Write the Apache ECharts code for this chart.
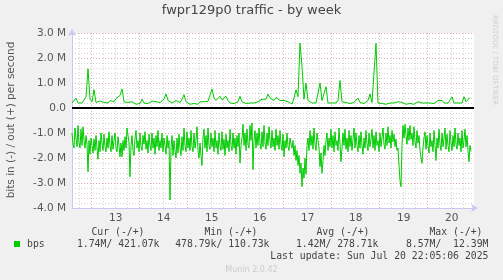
<!DOCTYPE html>
<html><head><meta charset="utf-8">
<script src="https://cdn.jsdelivr.net/npm/echarts@6/dist/echarts.min.js"></script>
<style>html,body{margin:0;padding:0;background:#f0f0f0}#c{width:503px;height:280px}</style>
</head><body><div id="c"></div>
<script>
const chartTitle = 'fwpr129p0 traffic - by week';
const yAxisName = 'bits in (-) / out (+) per second';
const dayLabels = [13, 14, 15, 16, 17, 18, 19, 20];
const yMin = -4, yMax = 3, yStep = 1; // in M
const startHour = 14.15;   // hours after Jul 12 00:00 of the first sample
const outStepHours = 1;
const inStepHours = 0.5;
const endHour = 215.15;    // right edge of the plot
// out (+) traffic, Mbit/s, hourly
const outMbps = [
0.2,0.25,0.4,0.2,0.25,0.2,0.28,0.45,1.57,0.35,
0.25,0.73,0.22,0.2,0.28,0.35,0.22,0.28,0.2,0.3,
0.22,0.25,0.38,0.3,0.5,0.76,0.25,0.2,0.22,0.18,
0.25,0.2,0.15,0.22,0.18,0.35,0.2,0.25,0.18,0.22,
0.28,0.2,0.25,0.3,0.22,0.3,0.35,0.56,0.3,0.28,
0.2,0.25,0.3,0.25,0.22,0.35,0.53,0.25,0.2,0.15,
0.12,0.18,0.13,0.15,0.25,0.28,0.25,0.3,0.27,0.3,
0.76,0.4,0.3,0.25,0.47,0.33,0.3,0.47,0.3,0.2,
0.22,0.18,0.22,0.25,0.47,0.25,0.2,0.18,0.22,0.2,
0.15,0.2,0.22,0.25,0.3,0.35,0.4,0.35,0.56,0.4,
0.45,0.3,0.42,0.35,0.3,0.38,0.3,0.27,0.25,0.2,
0.16,0.4,0.73,0.45,2.6,1.67,0.35,1.0,0.3,0.22,
0.2,0.18,0.2,0.25,1.0,0.3,0.25,0.85,0.2,0.18,
0.2,0.22,0.2,0.3,1.1,0.25,0.2,0.22,0.2,0.18,
0.2,0.22,0.25,0.4,0.22,0.2,0.18,0.22,0.3,0.56,
0.22,0.2,2.59,0.2,0.25,0.18,0.2,0.15,0.18,0.2,
0.15,0.2,0.22,0.25,0.33,0.22,0.18,0.15,0.2,0.18,
0.2,0.15,0.18,0.25,0.2,0.2,0.22,0.2,0.18,0.2,
0.22,0.18,0.2,0.3,0.25,0.3,0.2,0.18,0.2,0.22,
0.44,0.2,0.18,0.2,0.22,0.2,0.45,0.25,0.22,0.42
];
// in (-) traffic, Mbit/s, every 30 minutes (drawn negative)
const inMbps = [
1.0,1.45,1.6,0.8,1.2,1.55,0.7,1.4,1.6,0.85,
1.5,0.75,1.3,1.6,1.1,1.45,2.55,1.3,1.85,1.2,
1.5,1.8,1.25,1.7,1.1,1.6,2.05,1.3,1.75,1.0,
1.4,1.7,1.05,1.55,1.75,1.2,1.6,0.95,1.5,1.75,
1.1,1.65,1.3,1.0,1.6,1.75,1.15,1.5,1.95,1.4,
1.95,1.3,1.7,1.15,1.6,0.8,0.75,1.4,2.75,1.5,
1.1,1.7,1.9,1.2,0.9,1.6,1.3,1.75,1.0,1.55,
1.7,1.1,1.45,0.95,1.65,1.3,1.8,1.05,1.5,1.7,
1.0,1.6,1.2,1.85,1.1,1.55,0.9,1.7,1.3,1.6,
1.0,1.75,1.2,1.5,1.85,1.1,1.6,1.3,3.68,1.6,
1.1,1.9,1.3,1.7,2.0,1.2,1.8,1.05,1.6,1.9,
1.15,1.7,0.8,1.5,1.75,0.95,1.6,1.2,1.7,0.9,
1.55,1.75,1.0,1.6,1.3,0.75,1.7,2.0,1.4,1.9,
2.3,1.2,0.85,1.6,1.1,1.75,0.8,1.5,1.65,1.0,
1.55,1.2,1.75,0.9,1.6,1.3,1.85,1.0,1.5,1.7,
0.95,1.65,1.25,1.9,1.05,1.6,1.3,1.75,0.85,1.5,
1.7,1.0,1.6,1.2,1.85,1.1,1.55,1.0,2.2,1.5,
1.2,0.65,1.5,1.0,1.7,0.85,1.45,1.6,0.7,1.3,
0.6,2.47,1.3,0.9,1.6,1.0,1.5,0.8,1.4,1.65,
0.95,1.55,0.7,1.4,1.65,1.0,1.5,0.75,1.3,1.6,
0.9,1.55,1.2,1.7,0.85,1.5,1.1,1.65,0.9,1.45,
1.7,1.05,1.95,1.3,1.6,1.0,1.55,1.7,1.2,1.45,
1.6,1.3,1.9,1.5,2.1,1.7,2.3,1.9,2.61,2.2,
3.15,2.4,2.8,2.0,2.65,1.5,1.2,1.7,0.9,1.5,
1.1,1.65,0.8,1.45,1.7,1.0,1.3,1.6,2.35,1.8,
2.61,2.1,1.5,1.9,1.3,1.0,1.7,1.2,1.55,0.85,
1.6,1.1,1.75,0.95,1.5,1.3,1.7,0.8,1.45,2.15,
1.6,1.0,1.5,0.85,1.65,1.2,1.75,0.9,1.55,1.1,
1.7,1.25,0.8,1.6,1.0,1.5,1.75,1.1,1.6,0.95,
1.5,1.85,1.2,1.6,0.9,1.45,1.7,1.0,1.55,1.25,
0.85,1.6,1.1,1.7,0.95,1.5,1.3,1.75,1.0,1.55,
1.2,0.8,1.45,1.65,1.0,1.5,0.75,1.4,1.1,1.6,
0.9,1.35,1.05,1.55,1.25,1.7,1.6,2.3,2.9,3.15,
1.5,0.7,1.2,0.65,1.1,1.45,0.8,1.3,0.7,1.25,
1.0,1.5,0.75,1.35,1.6,0.9,1.4,1.1,1.7,2.0,
2.21,1.6,1.2,0.95,1.65,1.1,1.5,1.8,1.0,1.55,
1.3,1.75,0.9,1.5,2.1,1.2,1.6,0.85,1.45,1.7,
1.0,1.55,1.2,0.8,1.65,1.05,1.5,1.75,0.9,1.4,
1.7,1.1,1.55,0.8,1.45,1.65,1.0,1.5,1.2,1.75,
0.9,1.6,1.3,0.85,1.55,1.1,1.7,2.15,1.5,1.74
];
const legendName = 'bps';
const legendHeaders = ['Cur (-/+)', 'Min (-/+)', 'Avg (-/+)', 'Max (-/+)'];
const legendValues = ['1.74M/ 421.07k', '478.79k/ 110.73k', '1.42M/ 278.71k', '8.57M/  12.39M'];
const lastUpdate = 'Last update: Sun Jul 20 22:05:06 2025';
const footer = 'Munin 2.0.42';
const sideText = 'RRDTOOL / TOBI OETIKER';

const outData = outMbps.map((v, i) => [startHour + i * outStepHours, v]);
const inData = inMbps.map((v, i) => [startHour + i * inStepHours, -v]);
const noonHours = dayLabels.map(d => (d - 12) * 24 + 12);
const midnightHours = dayLabels.map(d => (d - 12) * 24);
const sixHours = [];
for (let h = 6; h < endHour; h += 6) if (h > startHour && h % 24 !== 0) sixHours.push(h);

const axisBlue = '#c8c8f4';
const majorGrid = '#e8aaaa';
const minorGrid = '#d4d4d4';
const mono = '"DejaVu Sans Mono", monospace';
const sans = '"DejaVu Sans", sans-serif';

const chart = echarts.init(document.getElementById('c'), null, {renderer: 'canvas'});
const headerRight = [144.5, 257.5, 369.5, 482.5];
const valueRight = [159.5, 269.5, 378.5, 488.5];
const graphics = [
  {type: 'text', left: 'center', top: 4, style: {text: chartTitle, font: '13px ' + sans, fill: '#444'}},
  {type: 'text', x: 11, y: 120, rotation: Math.PI / 2, style: {text: yAxisName, font: '10.5px ' + sans, fill: '#555', align: 'center', verticalAlign: 'middle'}},
  {type: 'text', x: 495, y: 15, rotation: -Math.PI / 2, style: {text: sideText, font: '7px ' + sans, fill: '#cfcfcf', align: 'left', verticalAlign: 'middle'}},
  {type: 'rect', shape: {x: 14, y: 241, width: 6, height: 6}, style: {fill: '#00cc00'}},
  {type: 'text', x: 27, y: 244.5, style: {text: legendName, font: '9.8px ' + mono, fill: '#444', verticalAlign: 'middle'}},
  {type: 'text', x: 488.5, y: 256.5, style: {text: lastUpdate, font: '9.8px ' + mono, fill: '#444', align: 'right', verticalAlign: 'middle'}},
  {type: 'text', x: 251.5, y: 269.5, style: {text: footer, font: '8px ' + sans, fill: '#cccccc', align: 'center', verticalAlign: 'middle'}}
];
legendHeaders.forEach((t, i) => graphics.push({type: 'text', x: headerRight[i], y: 232.5, style: {text: t, font: '9.8px ' + mono, fill: '#444', align: 'right', verticalAlign: 'middle'}}));
legendValues.forEach((t, i) => graphics.push({type: 'text', x: valueRight[i], y: 244.5, style: {text: t, font: '9.8px ' + mono, fill: '#444', align: 'right', verticalAlign: 'middle'}}));

const hiddenX = (vals, color) => ({
  type: 'value', min: startHour, max: endHour, position: 'bottom',
  axisLine: {show: false, onZero: false}, axisLabel: {show: false},
  axisTick: {show: false, customValues: vals},
  splitLine: {show: true, lineStyle: {color: color, type: [1, 2], width: 1}}
});

chart.setOption({
  animation: false,
  backgroundColor: '#f0f0f0',
  grid: {left: 72, top: 33, width: 402, height: 175, show: true, backgroundColor: '#ffffff', borderWidth: 0},
  xAxis: [
    {
      type: 'value', min: startHour, max: endHour, position: 'bottom',
      axisLine: {show: true, onZero: false, lineStyle: {color: axisBlue, width: 1}, symbol: ['none', 'arrow'], symbolSize: [6, 7], symbolOffset: [0, 4]},
      axisTick: {show: false, customValues: noonHours},
      axisLabel: {customValues: noonHours, formatter: v => String(Math.round((v - 12) / 24) + 12), color: '#555', fontSize: 10.5, fontFamily: 'DejaVu Sans', margin: 5},
      splitLine: {show: false}
    },
    hiddenX(sixHours, minorGrid),
    hiddenX(midnightHours, majorGrid)
  ],
  yAxis: {
    type: 'value', min: yMin, max: yMax, interval: yStep,
    axisLine: {show: true, onZero: false, lineStyle: {color: axisBlue, width: 1}, symbol: ['none', 'arrow'], symbolSize: [6, 7], symbolOffset: [0, 4]},
    axisTick: {show: false},
    axisLabel: {formatter: v => v === 0 ? '0.0' : v.toFixed(1) + ' M', color: '#555', fontSize: 10.5, fontFamily: 'DejaVu Sans', margin: 6},
    splitLine: {show: true, lineStyle: {color: majorGrid, type: [1, 2], width: 1}},
    minorTick: {show: false, splitNumber: 5},
    minorSplitLine: {show: true, lineStyle: {color: minorGrid, type: [1, 2], width: 1}}
  },
  series: [
    {
      type: 'line', data: inData, showSymbol: false, z: 3,
      lineStyle: {color: '#00cc00', width: 1}, itemStyle: {color: '#00cc00'}
    },
    {
      type: 'line', data: outData, showSymbol: false, z: 3,
      lineStyle: {color: '#00cc00', width: 1}, itemStyle: {color: '#00cc00'},
      markLine: {silent: true, symbol: ['none', 'none'], label: {show: false}, lineStyle: {color: '#000', width: 2, type: 'solid'}, data: [{yAxis: 0}]}
    }
  ],
  graphic: graphics
});
</script></body></html>
